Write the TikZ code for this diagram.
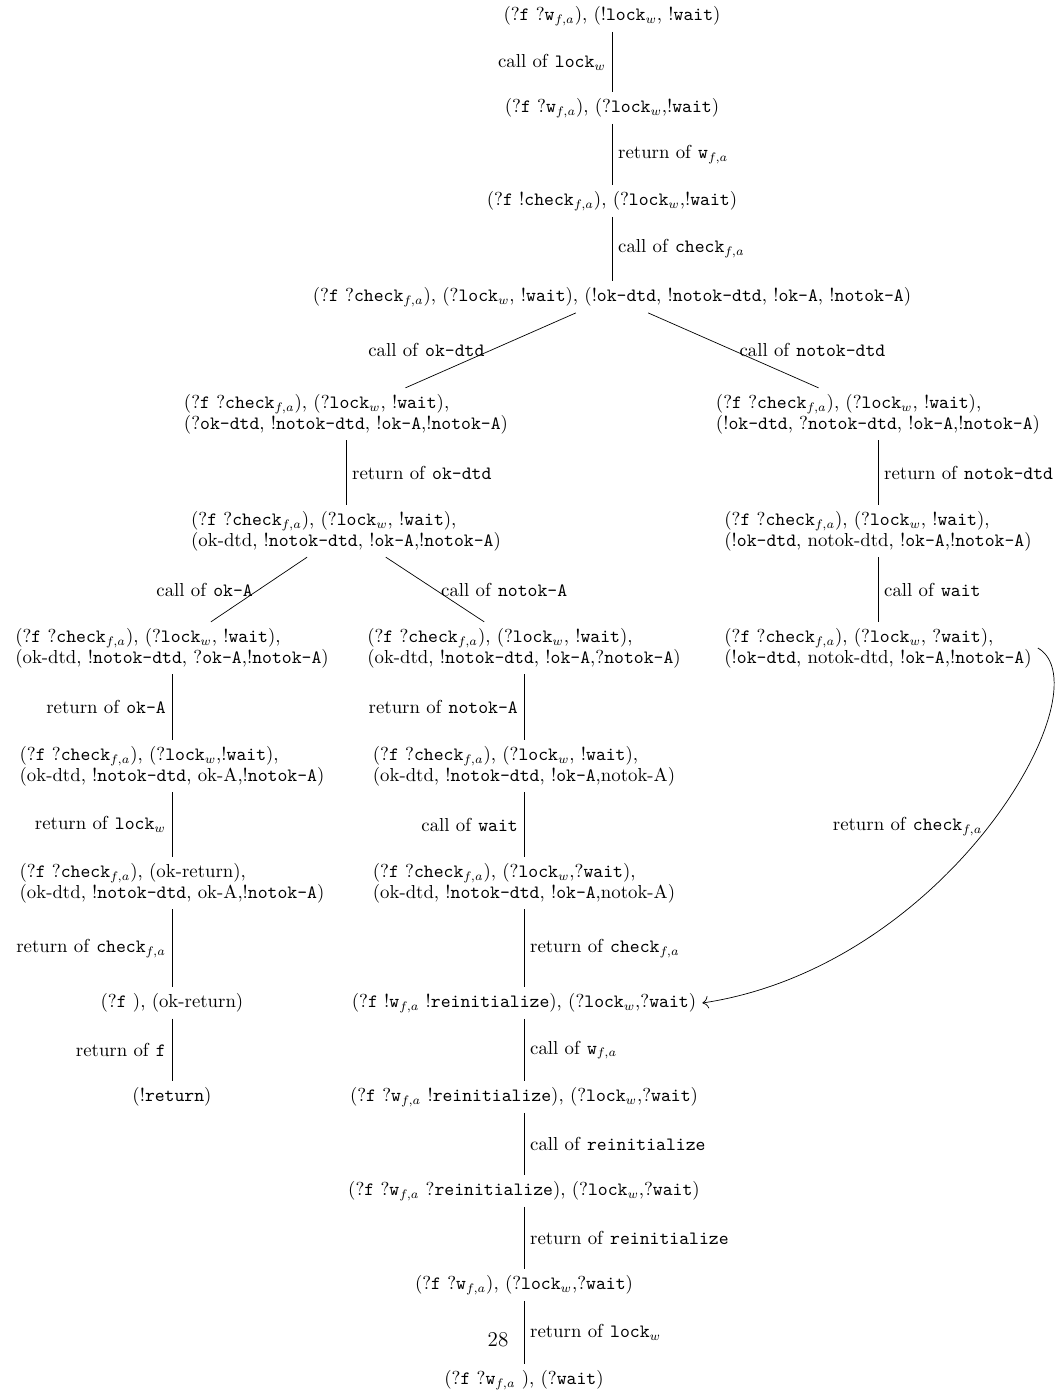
\documentclass[tikz,border=0pt]{standalone}
\usepackage{fontspec}
\usepackage{tikz}
\usetikzlibrary{arrows.meta}
\newcommand{\chk}{\texttt{check}$_{f,a}$}
\newcommand{\lk}{\texttt{lock}$_w$}
\newcommand{\wfa}{\texttt{w}$_{f,a}$}
\begin{document}
\begin{tikzpicture}[
  font=\fontsize{10.7pt}{12pt}\selectfont,
  conf/.style={align=left},
  move/.style={draw,thin},
  ret/.style={-{To[length=1.2mm]},thin}
]
\useasboundingbox (0,0) rectangle (21.16,-27.86);
% main trunk
\node[conf] (n1) at (12.24,-0.32) {(?\texttt{f} ?\wfa), (!\lk, !\texttt{wait})};
\node[conf] (n2) at (12.24,-2.16) {(?\texttt{f} ?\wfa), (?\lk,!\texttt{wait})};
\node[conf] (n3) at (12.24,-4.02) {(?\texttt{f} !\chk), (?\lk,!\texttt{wait})};
\node[conf] (n4) at (12.24,-5.94) {(?\texttt{f} ?\chk), (?\lk, !\texttt{wait}), (!\texttt{ok-dtd}, !\texttt{notok-dtd}, !\texttt{ok-A}, !\texttt{notok-A})};
% ok-dtd branch
\node[conf] (L1) at (6.92,-8.28) {(?\texttt{f} ?\chk), (?\lk, !\texttt{wait}),\\(?\texttt{ok-dtd}, !\texttt{notok-dtd}, !\texttt{ok-A},!\texttt{notok-A})};
\node[conf] (L2) at (6.92,-10.62) {(?\texttt{f} ?\chk), (?\lk, !\texttt{wait}),\\(ok-dtd, !\texttt{notok-dtd}, !\texttt{ok-A},!\texttt{notok-A})};
% notok-dtd branch
\node[conf] (R1) at (17.56,-8.28) {(?\texttt{f} ?\chk), (?\lk, !\texttt{wait}),\\(!\texttt{ok-dtd}, ?\texttt{notok-dtd}, !\texttt{ok-A},!\texttt{notok-A})};
\node[conf] (R2) at (17.56,-10.62) {(?\texttt{f} ?\chk), (?\lk, !\texttt{wait}),\\(!\texttt{ok-dtd}, notok-dtd, !\texttt{ok-A},!\texttt{notok-A})};
\node[conf] (R3) at (17.56,-12.96) {(?\texttt{f} ?\chk), (?\lk, ?\texttt{wait}),\\(!\texttt{ok-dtd}, notok-dtd, !\texttt{ok-A},!\texttt{notok-A})};
% ok-A branch
\node[conf] (LL1) at (3.44,-12.96) {(?\texttt{f} ?\chk), (?\lk, !\texttt{wait}),\\(ok-dtd, !\texttt{notok-dtd}, ?\texttt{ok-A},!\texttt{notok-A})};
\node[conf] (LL2) at (3.44,-15.32) {(?\texttt{f} ?\chk), (?\lk,!\texttt{wait}),\\(ok-dtd, !\texttt{notok-dtd}, ok-A,!\texttt{notok-A})};
\node[conf] (LL3) at (3.44,-17.66) {(?\texttt{f} ?\chk), (ok-return),\\(ok-dtd, !\texttt{notok-dtd}, ok-A,!\texttt{notok-A})};
\node[conf] (LL4) at (3.44,-20.06) {(?\texttt{f} ), (ok-return)};
\node[conf] (LL5) at (3.44,-21.94) {(!\texttt{return})};
% notok-A branch
\node[conf] (LM1) at (10.48,-12.96) {(?\texttt{f} ?\chk), (?\lk, !\texttt{wait}),\\(ok-dtd, !\texttt{notok-dtd}, !\texttt{ok-A},?\texttt{notok-A})};
\node[conf] (LM2) at (10.48,-15.32) {(?\texttt{f} ?\chk), (?\lk, !\texttt{wait}),\\(ok-dtd, !\texttt{notok-dtd}, !\texttt{ok-A},notok-A)};
\node[conf] (LM3) at (10.48,-17.66) {(?\texttt{f} ?\chk), (?\lk,?\texttt{wait}),\\(ok-dtd, !\texttt{notok-dtd}, !\texttt{ok-A},notok-A)};
\node[conf] (M1) at (10.48,-20.06) {(?\texttt{f} !\wfa{} !\texttt{reinitialize}), (?\lk,?\texttt{wait})};
\node[conf] (M2) at (10.48,-21.94) {(?\texttt{f} ?\wfa{} !\texttt{reinitialize}), (?\lk,?\texttt{wait})};
\node[conf] (M3) at (10.48,-23.82) {(?\texttt{f} ?\wfa{} ?\texttt{reinitialize}), (?\lk,?\texttt{wait})};
\node[conf] (M4) at (10.48,-25.70) {(?\texttt{f} ?\wfa), (?\lk,?\texttt{wait})};
\node[conf] (M5) at (10.48,-27.60) {(?\texttt{f} ?\wfa{} ), (?\texttt{wait})};
\node (page) at (9.96,-26.8) {\large 28};
% transitions
\draw[move] (n1) -- node[left] {call of \lk} (n2);
\draw[move] (n2) -- node[right] {return of \wfa} (n3);
\draw[move] (n3) -- node[right] {call of \chk} (n4);
\draw[move] (n4) -- node[left] {call of \texttt{ok-dtd}} (L1);
\draw[move] (n4) -- node[right] {call of \texttt{notok-dtd}} (R1);
\draw[move] (L1) -- node[right] {return of \texttt{ok-dtd}} (L2);
\draw[move] (R1) -- node[right] {return of \texttt{notok-dtd}} (R2);
\draw[move] (R2) -- node[right] {call of \texttt{wait}} (R3);
\draw[move] (L2) -- node[left] {call of \texttt{ok-A}} (LL1);
\draw[move] (L2) -- node[right] {call of \texttt{notok-A}} (LM1);
\draw[move] (LL1) -- node[left] {return of \texttt{ok-A}} (LL2);
\draw[move] (LL2) -- node[left] {return of \lk} (LL3);
\draw[move] (LL3) -- node[left] {return of \chk} (LL4);
\draw[move] (LL4) -- node[left] {return of \texttt{f}} (LL5);
\draw[move] (LM1) -- node[left] {return of \texttt{notok-A}} (LM2);
\draw[move] (LM2) -- node[left] {call of \texttt{wait}} (LM3);
\draw[move] (LM3) -- node[right] {return of \chk} (M1);
\draw[move] (M1) -- node[right] {call of \wfa} (M2);
\draw[move] (M2) -- node[right] {call of \texttt{reinitialize}} (M3);
\draw[move] (M3) -- node[right] {return of \texttt{reinitialize}} (M4);
\draw[move] (M4) -- node[right] {return of \lk} (M5);
\draw[ret] (R3.east) .. controls +(1.38,-0.8) and +(4.94,0.74) .. node[pos=0.5,left] {return of \chk} (M1.east);
\end{tikzpicture}
\end{document}
